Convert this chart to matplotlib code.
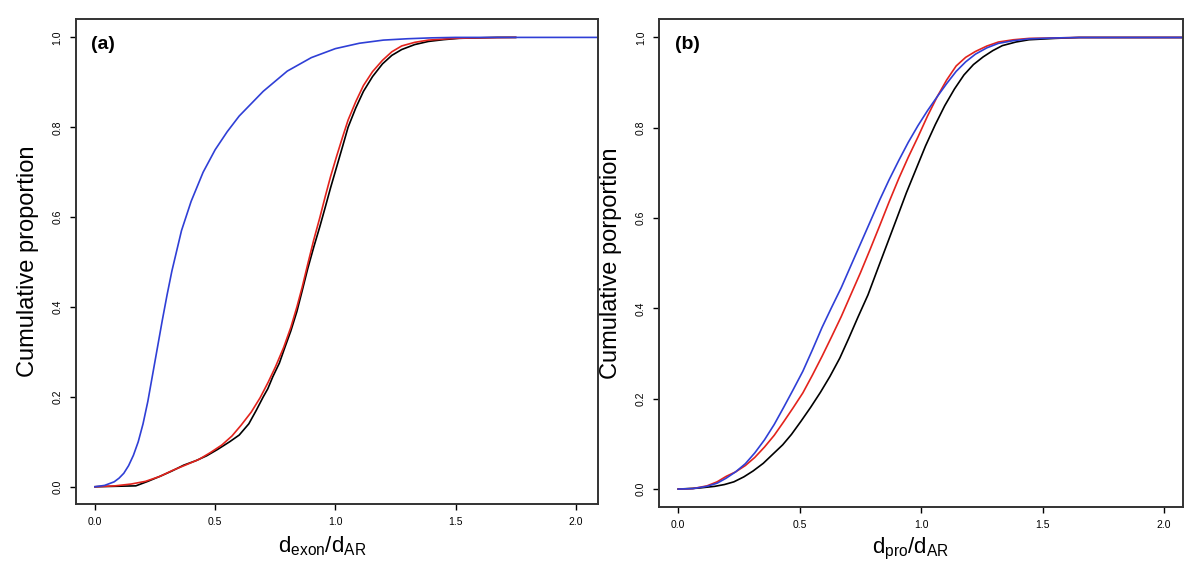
import numpy as np
import matplotlib
matplotlib.use('Agg')
import matplotlib.pyplot as plt

plt.rcParams['font.family'] = ['Liberation Sans', 'DejaVu Sans']
plt.rcParams['mathtext.fontset'] = 'custom'
plt.rcParams['mathtext.rm'] = 'Liberation Sans'
plt.rcParams['mathtext.it'] = 'Liberation Sans'

# panel (a): exon distances
a_blue_x = [0.0, 0.04, 0.08, 0.10, 0.12, 0.14, 0.16, 0.18, 0.2, 0.22, 0.24, 0.26, 0.28,
            0.30, 0.32, 0.36, 0.40, 0.45, 0.5, 0.55, 0.6, 0.7, 0.8, 0.9, 1.0, 1.1,
            1.2, 1.3, 1.4, 1.5, 1.6, 1.7, 2.1]
a_blue_y = [0.0, 0.003, 0.011, 0.019, 0.03, 0.047, 0.07, 0.10, 0.14, 0.19, 0.25, 0.31,
            0.37, 0.427, 0.48, 0.57, 0.635, 0.70, 0.75, 0.79, 0.825, 0.88, 0.925, 0.955,
            0.975, 0.987, 0.994, 0.997, 0.999, 1.0, 1.0, 1.0, 1.0]

a_black_x = [0.0, 0.17, 0.22, 0.274, 0.32, 0.369, 0.42, 0.465, 0.51, 0.56, 0.6, 0.64,
             0.671, 0.7, 0.719, 0.74, 0.767, 0.79, 0.815, 0.84, 0.862, 0.885, 0.910,
             0.935, 0.958, 0.98, 1.005, 1.03, 1.053, 1.085, 1.117, 1.155, 1.196, 1.235,
             1.276, 1.33, 1.387, 1.45, 1.515, 1.6, 1.674, 1.75]
a_black_y = [0.0, 0.002, 0.012, 0.024, 0.035, 0.048, 0.058, 0.069, 0.083, 0.10, 0.115,
             0.14, 0.170, 0.2, 0.218, 0.245, 0.275, 0.31, 0.347, 0.39, 0.436, 0.485,
             0.533, 0.578, 0.622, 0.665, 0.711, 0.757, 0.800, 0.843, 0.880, 0.913,
             0.941, 0.96, 0.973, 0.984, 0.991, 0.995, 0.998, 0.999, 1.0, 1.0]

a_red_x = [0.0, 0.083, 0.15, 0.21, 0.27, 0.321, 0.38, 0.433, 0.48, 0.528, 0.57, 0.608,
           0.65, 0.687, 0.72, 0.751, 0.785, 0.815, 0.84, 0.862, 0.885, 0.910, 0.935,
           0.958, 0.98, 1.005, 1.03, 1.053, 1.085, 1.117, 1.155, 1.196, 1.235, 1.276,
           1.33, 1.387, 1.5, 1.594, 1.75]
a_red_y = [0.0, 0.002, 0.006, 0.012, 0.023, 0.036, 0.049, 0.061, 0.076, 0.093, 0.113,
           0.137, 0.166, 0.198, 0.232, 0.267, 0.31, 0.355, 0.4, 0.444, 0.495, 0.549,
           0.598, 0.646, 0.69, 0.735, 0.778, 0.816, 0.857, 0.893, 0.924, 0.949, 0.968,
           0.981, 0.989, 0.994, 0.998, 0.999, 1.0]

# panel (b): promoter distances
b_x = [0.0, 0.06, 0.118, 0.16, 0.197, 0.236, 0.276, 0.315, 0.355, 0.395, 0.434, 0.473,
       0.513, 0.552, 0.592, 0.631, 0.671, 0.71, 0.750, 0.79, 0.829, 0.868, 0.908, 0.947,
       0.987, 1.026, 1.066, 1.105, 1.144, 1.183, 1.223, 1.27, 1.318, 1.38, 1.444, 1.55,
       1.65, 2.1]
b_blue_y = [0.0, 0.001, 0.006, 0.013, 0.024, 0.038, 0.056, 0.080, 0.109, 0.143, 0.181,
            0.220, 0.261, 0.308, 0.358, 0.402, 0.446, 0.494, 0.543, 0.592, 0.640, 0.685,
            0.728, 0.768, 0.805, 0.838, 0.869, 0.898, 0.925, 0.946, 0.963, 0.977, 0.987,
            0.993, 0.997, 0.999, 1.0, 1.0]
b_red_y = [0.0, 0.001, 0.007, 0.016, 0.028, 0.038, 0.052, 0.070, 0.093, 0.119, 0.149,
           0.180, 0.213, 0.252, 0.294, 0.337, 0.382, 0.430, 0.479, 0.531, 0.583, 0.636,
           0.688, 0.735, 0.780, 0.826, 0.869, 0.906, 0.937, 0.956, 0.969, 0.981, 0.990,
           0.995, 0.998, 0.999, 1.0, 1.0]

b_black_x = [0.0, 0.08, 0.15, 0.19, 0.229, 0.27, 0.308, 0.35, 0.387, 0.43, 0.466, 0.505,
             0.545, 0.585, 0.624, 0.665, 0.702, 0.74, 0.781, 0.82, 0.860, 0.9, 0.939,
             0.98, 1.018, 1.058, 1.097, 1.137, 1.176, 1.215, 1.255, 1.295, 1.334, 1.39,
             1.444, 1.55, 1.65, 2.1]
b_black_y = [0.0, 0.002, 0.006, 0.010, 0.016, 0.027, 0.040, 0.057, 0.076, 0.098, 0.121,
             0.150, 0.181, 0.214, 0.249, 0.290, 0.334, 0.381, 0.430, 0.486, 0.543, 0.600,
             0.656, 0.710, 0.760, 0.807, 0.849, 0.886, 0.917, 0.940, 0.957, 0.971, 0.982,
             0.990, 0.995, 0.998, 1.0, 1.0]

xticks = [0.0, 0.5, 1.0, 1.5, 2.0]
yticks = [0.0, 0.2, 0.4, 0.6, 0.8, 1.0]

blue = '#2f3fd6'
red = '#e3231c'

fig = plt.figure(figsize=(12, 5.7), dpi=100)
ax1 = fig.add_axes([0.0631, 0.1153, 0.4355, 0.8514])
ax2 = fig.add_axes([0.5492, 0.1111, 0.4367, 0.8556])

panels = [
    (ax1, '(a)', r'$\mathrm{d}_{\mathrm{exon}}/\mathrm{d}_{\mathrm{AR}}$', 'Cumulative proportion',
     (a_black_x, a_black_y), (a_red_x, a_red_y), (a_blue_x, a_blue_y),
     (-0.080, 2.094), (0.471, -0.100)),
    (ax2, '(b)', r'$\mathrm{d}_{\mathrm{pro}}/\mathrm{d}_{\mathrm{AR}}$', 'Cumulative porportion',
     (b_black_x, b_black_y), (b_x, b_red_y), (b_x, b_blue_y),
     (-0.079, 2.078), (0.48, -0.095)),
]

for ax, tag, xl, yl, blk, rd, bl, xlim, xlpos in panels:
    ax.plot(blk[0], blk[1], color='black', lw=1.2)
    ax.plot(rd[0], rd[1], color=red, lw=1.2)
    ax.plot(bl[0], bl[1], color=blue, lw=1.2)
    ax.set_xlim(*xlim)
    ax.set_ylim(-0.039, 1.041)
    ax.set_xticks(xticks)
    ax.set_yticks(yticks)
    ax.set_xticklabels(['%.1f' % t for t in xticks], fontsize=7.5)
    ax.set_yticklabels(['%.1f' % t for t in yticks], fontsize=7.5, rotation=90, va='center')
    ax.tick_params(direction='out', length=4.5, width=1.0, pad=5)
    for s in ax.spines.values():
        s.set_linewidth(1.4)
        s.set_color('#333333')
    ax.set_xlabel(xl, fontsize=16, va='baseline')
    ax.set_ylabel(yl, fontsize=17, va='center')
    ax.xaxis.set_label_coords(*xlpos)
    ax.yaxis.set_label_coords(-0.091, 0.5)
    ax.text(0.03, 0.965, tag, transform=ax.transAxes, ha='left', va='top',
            fontsize=14, fontweight='bold')

fig.savefig('out.png', dpi=100)
